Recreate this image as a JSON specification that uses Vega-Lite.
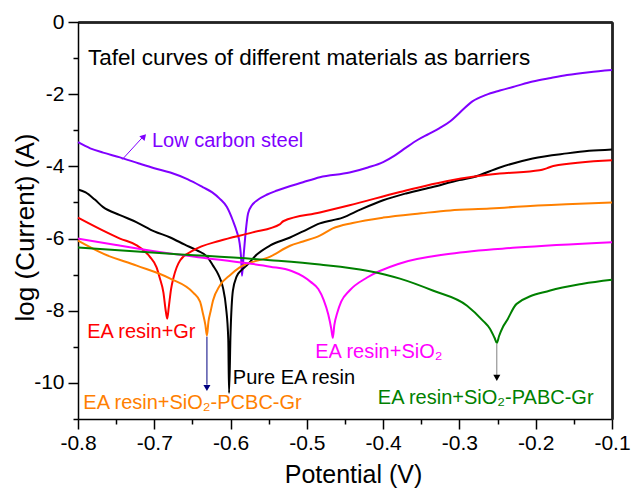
{
  "$schema": "https://vega.github.io/schema/vega-lite/v6.json",
  "width": 534,
  "height": 397,
  "autosize": {"type": "none"},
  "padding": {"left": 78, "top": 22, "right": 20, "bottom": 69},
  "background": "white",
  "resolve": {"axis": {"x": "independent", "y": "independent"}},
  "config": {
    "font": "Liberation Sans",
    "view": {"stroke": null},
    "axis": {
      "labelFont": "Liberation Sans",
      "titleFont": "Liberation Sans",
      "labelFontSize": 21,
      "titleFontSize": 25,
      "titleFontWeight": "normal",
      "labelColor": "black",
      "titleColor": "black",
      "domainColor": "black",
      "domainWidth": 1.5,
      "tickColor": "black",
      "tickWidth": 1.5,
      "grid": false,
      "labelOverlap": false,
      "labelFlush": false
    }
  },
  "datasets": {
    "curves": [
      {"series": "Low carbon steel", "x": -0.8, "y": -3.33},
      {"series": "Low carbon steel", "x": -0.784, "y": -3.5},
      {"series": "Low carbon steel", "x": -0.767, "y": -3.62},
      {"series": "Low carbon steel", "x": -0.745, "y": -3.75},
      {"series": "Low carbon steel", "x": -0.72, "y": -3.92},
      {"series": "Low carbon steel", "x": -0.7, "y": -4.05},
      {"series": "Low carbon steel", "x": -0.679, "y": -4.17},
      {"series": "Low carbon steel", "x": -0.656, "y": -4.36},
      {"series": "Low carbon steel", "x": -0.636, "y": -4.58},
      {"series": "Low carbon steel", "x": -0.624, "y": -4.72},
      {"series": "Low carbon steel", "x": -0.614, "y": -4.9},
      {"series": "Low carbon steel", "x": -0.605, "y": -5.12},
      {"series": "Low carbon steel", "x": -0.597, "y": -5.5},
      {"series": "Low carbon steel", "x": -0.592, "y": -5.8},
      {"series": "Low carbon steel", "x": -0.588, "y": -6.15},
      {"series": "Low carbon steel", "x": -0.586, "y": -6.6},
      {"series": "Low carbon steel", "x": -0.585, "y": -7.03},
      {"series": "Low carbon steel", "x": -0.583, "y": -6.5},
      {"series": "Low carbon steel", "x": -0.581, "y": -6.0},
      {"series": "Low carbon steel", "x": -0.577, "y": -5.3},
      {"series": "Low carbon steel", "x": -0.572, "y": -5.08},
      {"series": "Low carbon steel", "x": -0.565, "y": -4.94},
      {"series": "Low carbon steel", "x": -0.552, "y": -4.78},
      {"series": "Low carbon steel", "x": -0.539, "y": -4.67},
      {"series": "Low carbon steel", "x": -0.505, "y": -4.44},
      {"series": "Low carbon steel", "x": -0.483, "y": -4.3},
      {"series": "Low carbon steel", "x": -0.444, "y": -4.17},
      {"series": "Low carbon steel", "x": -0.42, "y": -4.03},
      {"series": "Low carbon steel", "x": -0.4, "y": -3.88},
      {"series": "Low carbon steel", "x": -0.385, "y": -3.7},
      {"series": "Low carbon steel", "x": -0.37, "y": -3.48},
      {"series": "Low carbon steel", "x": -0.355, "y": -3.27},
      {"series": "Low carbon steel", "x": -0.34, "y": -3.1},
      {"series": "Low carbon steel", "x": -0.326, "y": -2.94},
      {"series": "Low carbon steel", "x": -0.312, "y": -2.75},
      {"series": "Low carbon steel", "x": -0.3, "y": -2.52},
      {"series": "Low carbon steel", "x": -0.283, "y": -2.2},
      {"series": "Low carbon steel", "x": -0.265, "y": -2.02},
      {"series": "Low carbon steel", "x": -0.247, "y": -1.9},
      {"series": "Low carbon steel", "x": -0.225, "y": -1.77},
      {"series": "Low carbon steel", "x": -0.204, "y": -1.65},
      {"series": "Low carbon steel", "x": -0.18, "y": -1.55},
      {"series": "Low carbon steel", "x": -0.159, "y": -1.47},
      {"series": "Low carbon steel", "x": -0.13, "y": -1.39},
      {"series": "Low carbon steel", "x": -0.1, "y": -1.33},

      {"series": "Pure EA resin", "x": -0.8, "y": -4.64},
      {"series": "Pure EA resin", "x": -0.79, "y": -4.72},
      {"series": "Pure EA resin", "x": -0.778, "y": -4.92},
      {"series": "Pure EA resin", "x": -0.767, "y": -5.13},
      {"series": "Pure EA resin", "x": -0.745, "y": -5.35},
      {"series": "Pure EA resin", "x": -0.723, "y": -5.55},
      {"series": "Pure EA resin", "x": -0.7, "y": -5.8},
      {"series": "Pure EA resin", "x": -0.679, "y": -5.97},
      {"series": "Pure EA resin", "x": -0.66, "y": -6.17},
      {"series": "Pure EA resin", "x": -0.644, "y": -6.33},
      {"series": "Pure EA resin", "x": -0.63, "y": -6.52},
      {"series": "Pure EA resin", "x": -0.623, "y": -6.75},
      {"series": "Pure EA resin", "x": -0.616, "y": -7.0},
      {"series": "Pure EA resin", "x": -0.61, "y": -7.36},
      {"series": "Pure EA resin", "x": -0.606, "y": -7.9},
      {"series": "Pure EA resin", "x": -0.603, "y": -8.8},
      {"series": "Pure EA resin", "x": -0.602, "y": -10.28},
      {"series": "Pure EA resin", "x": -0.6, "y": -8.6},
      {"series": "Pure EA resin", "x": -0.597, "y": -7.45},
      {"series": "Pure EA resin", "x": -0.592, "y": -7.05},
      {"series": "Pure EA resin", "x": -0.586, "y": -6.88},
      {"series": "Pure EA resin", "x": -0.579, "y": -6.75},
      {"series": "Pure EA resin", "x": -0.566, "y": -6.45},
      {"series": "Pure EA resin", "x": -0.548, "y": -6.19},
      {"series": "Pure EA resin", "x": -0.522, "y": -5.97},
      {"series": "Pure EA resin", "x": -0.505, "y": -5.8},
      {"series": "Pure EA resin", "x": -0.483, "y": -5.58},
      {"series": "Pure EA resin", "x": -0.453, "y": -5.42},
      {"series": "Pure EA resin", "x": -0.43, "y": -5.2},
      {"series": "Pure EA resin", "x": -0.4, "y": -4.94},
      {"series": "Pure EA resin", "x": -0.37, "y": -4.75},
      {"series": "Pure EA resin", "x": -0.335, "y": -4.57},
      {"series": "Pure EA resin", "x": -0.3, "y": -4.38},
      {"series": "Pure EA resin", "x": -0.282, "y": -4.3},
      {"series": "Pure EA resin", "x": -0.247, "y": -4.03},
      {"series": "Pure EA resin", "x": -0.204, "y": -3.78},
      {"series": "Pure EA resin", "x": -0.159, "y": -3.64},
      {"series": "Pure EA resin", "x": -0.13, "y": -3.57},
      {"series": "Pure EA resin", "x": -0.1, "y": -3.53},

      {"series": "EA resin+Gr", "x": -0.8, "y": -5.42},
      {"series": "EA resin+Gr", "x": -0.767, "y": -5.78},
      {"series": "EA resin+Gr", "x": -0.745, "y": -6.0},
      {"series": "EA resin+Gr", "x": -0.723, "y": -6.19},
      {"series": "EA resin+Gr", "x": -0.706, "y": -6.5},
      {"series": "EA resin+Gr", "x": -0.697, "y": -6.8},
      {"series": "EA resin+Gr", "x": -0.693, "y": -7.08},
      {"series": "EA resin+Gr", "x": -0.688, "y": -7.5},
      {"series": "EA resin+Gr", "x": -0.685, "y": -8.0},
      {"series": "EA resin+Gr", "x": -0.683, "y": -8.22},
      {"series": "EA resin+Gr", "x": -0.681, "y": -7.9},
      {"series": "EA resin+Gr", "x": -0.678, "y": -7.4},
      {"series": "EA resin+Gr", "x": -0.675, "y": -7.1},
      {"series": "EA resin+Gr", "x": -0.666, "y": -6.6},
      {"series": "EA resin+Gr", "x": -0.649, "y": -6.33},
      {"series": "EA resin+Gr", "x": -0.614, "y": -6.06},
      {"series": "EA resin+Gr", "x": -0.571, "y": -5.83},
      {"series": "EA resin+Gr", "x": -0.535, "y": -5.6},
      {"series": "EA resin+Gr", "x": -0.531, "y": -5.52},
      {"series": "EA resin+Gr", "x": -0.483, "y": -5.28},
      {"series": "EA resin+Gr", "x": -0.444, "y": -5.08},
      {"series": "EA resin+Gr", "x": -0.378, "y": -4.71},
      {"series": "EA resin+Gr", "x": -0.312, "y": -4.39},
      {"series": "EA resin+Gr", "x": -0.247, "y": -4.2},
      {"series": "EA resin+Gr", "x": -0.195, "y": -4.11},
      {"series": "EA resin+Gr", "x": -0.185, "y": -4.05},
      {"series": "EA resin+Gr", "x": -0.177, "y": -3.99},
      {"series": "EA resin+Gr", "x": -0.1, "y": -3.83},

      {"series": "EA resin+SiO₂-PCBC-Gr", "x": -0.8, "y": -6.06},
      {"series": "EA resin+SiO₂-PCBC-Gr", "x": -0.767, "y": -6.42},
      {"series": "EA resin+SiO₂-PCBC-Gr", "x": -0.723, "y": -6.75},
      {"series": "EA resin+SiO₂-PCBC-Gr", "x": -0.679, "y": -7.11},
      {"series": "EA resin+SiO₂-PCBC-Gr", "x": -0.649, "y": -7.5},
      {"series": "EA resin+SiO₂-PCBC-Gr", "x": -0.64, "y": -7.75},
      {"series": "EA resin+SiO₂-PCBC-Gr", "x": -0.636, "y": -8.1},
      {"series": "EA resin+SiO₂-PCBC-Gr", "x": -0.633, "y": -8.4},
      {"series": "EA resin+SiO₂-PCBC-Gr", "x": -0.631, "y": -8.69},
      {"series": "EA resin+SiO₂-PCBC-Gr", "x": -0.629, "y": -8.3},
      {"series": "EA resin+SiO₂-PCBC-Gr", "x": -0.626, "y": -8.0},
      {"series": "EA resin+SiO₂-PCBC-Gr", "x": -0.623, "y": -7.72},
      {"series": "EA resin+SiO₂-PCBC-Gr", "x": -0.614, "y": -7.3},
      {"series": "EA resin+SiO₂-PCBC-Gr", "x": -0.6, "y": -7.0},
      {"series": "EA resin+SiO₂-PCBC-Gr", "x": -0.588, "y": -6.8},
      {"series": "EA resin+SiO₂-PCBC-Gr", "x": -0.548, "y": -6.5},
      {"series": "EA resin+SiO₂-PCBC-Gr", "x": -0.522, "y": -6.2},
      {"series": "EA resin+SiO₂-PCBC-Gr", "x": -0.505, "y": -6.08},
      {"series": "EA resin+SiO₂-PCBC-Gr", "x": -0.483, "y": -5.92},
      {"series": "EA resin+SiO₂-PCBC-Gr", "x": -0.466, "y": -5.72},
      {"series": "EA resin+SiO₂-PCBC-Gr", "x": -0.44, "y": -5.57},
      {"series": "EA resin+SiO₂-PCBC-Gr", "x": -0.4, "y": -5.42},
      {"series": "EA resin+SiO₂-PCBC-Gr", "x": -0.35, "y": -5.3},
      {"series": "EA resin+SiO₂-PCBC-Gr", "x": -0.312, "y": -5.22},
      {"series": "EA resin+SiO₂-PCBC-Gr", "x": -0.26, "y": -5.17},
      {"series": "EA resin+SiO₂-PCBC-Gr", "x": -0.225, "y": -5.12},
      {"series": "EA resin+SiO₂-PCBC-Gr", "x": -0.16, "y": -5.05},
      {"series": "EA resin+SiO₂-PCBC-Gr", "x": -0.1, "y": -5.0},

      {"series": "EA resin+SiO₂", "x": -0.8, "y": -6.0},
      {"series": "EA resin+SiO₂", "x": -0.75, "y": -6.18},
      {"series": "EA resin+SiO₂", "x": -0.7, "y": -6.35},
      {"series": "EA resin+SiO₂", "x": -0.636, "y": -6.53},
      {"series": "EA resin+SiO₂", "x": -0.58, "y": -6.68},
      {"series": "EA resin+SiO₂", "x": -0.548, "y": -6.78},
      {"series": "EA resin+SiO₂", "x": -0.52, "y": -6.9},
      {"series": "EA resin+SiO₂", "x": -0.505, "y": -7.05},
      {"series": "EA resin+SiO₂", "x": -0.495, "y": -7.2},
      {"series": "EA resin+SiO₂", "x": -0.485, "y": -7.4},
      {"series": "EA resin+SiO₂", "x": -0.478, "y": -7.7},
      {"series": "EA resin+SiO₂", "x": -0.472, "y": -8.1},
      {"series": "EA resin+SiO₂", "x": -0.468, "y": -8.5},
      {"series": "EA resin+SiO₂", "x": -0.466, "y": -8.75},
      {"series": "EA resin+SiO₂", "x": -0.464, "y": -8.4},
      {"series": "EA resin+SiO₂", "x": -0.46, "y": -8.05},
      {"series": "EA resin+SiO₂", "x": -0.455, "y": -7.75},
      {"series": "EA resin+SiO₂", "x": -0.444, "y": -7.44},
      {"series": "EA resin+SiO₂", "x": -0.421, "y": -7.08},
      {"series": "EA resin+SiO₂", "x": -0.378, "y": -6.69},
      {"series": "EA resin+SiO₂", "x": -0.312, "y": -6.42},
      {"series": "EA resin+SiO₂", "x": -0.225, "y": -6.25},
      {"series": "EA resin+SiO₂", "x": -0.1, "y": -6.1},

      {"series": "EA resin+SiO₂-PABC-Gr", "x": -0.8, "y": -6.25},
      {"series": "EA resin+SiO₂-PABC-Gr", "x": -0.679, "y": -6.42},
      {"series": "EA resin+SiO₂-PABC-Gr", "x": -0.548, "y": -6.6},
      {"series": "EA resin+SiO₂-PABC-Gr", "x": -0.483, "y": -6.72},
      {"series": "EA resin+SiO₂-PABC-Gr", "x": -0.421, "y": -6.89},
      {"series": "EA resin+SiO₂-PABC-Gr", "x": -0.378, "y": -7.11},
      {"series": "EA resin+SiO₂-PABC-Gr", "x": -0.335, "y": -7.44},
      {"series": "EA resin+SiO₂-PABC-Gr", "x": -0.29, "y": -7.86},
      {"series": "EA resin+SiO₂-PABC-Gr", "x": -0.269, "y": -8.28},
      {"series": "EA resin+SiO₂-PABC-Gr", "x": -0.26, "y": -8.5},
      {"series": "EA resin+SiO₂-PABC-Gr", "x": -0.254, "y": -8.75},
      {"series": "EA resin+SiO₂-PABC-Gr", "x": -0.251, "y": -8.89},
      {"series": "EA resin+SiO₂-PABC-Gr", "x": -0.248, "y": -8.7},
      {"series": "EA resin+SiO₂-PABC-Gr", "x": -0.243, "y": -8.45},
      {"series": "EA resin+SiO₂-PABC-Gr", "x": -0.238, "y": -8.28},
      {"series": "EA resin+SiO₂-PABC-Gr", "x": -0.225, "y": -7.81},
      {"series": "EA resin+SiO₂-PABC-Gr", "x": -0.181, "y": -7.44},
      {"series": "EA resin+SiO₂-PABC-Gr", "x": -0.138, "y": -7.25},
      {"series": "EA resin+SiO₂-PABC-Gr", "x": -0.1, "y": -7.14}
    ],
    "labels": [
      {"series": "Low carbon steel", "x": -0.703, "y": -3.47},
      {"series": "EA resin+Gr", "x": -0.788, "y": -8.75},
      {"series": "Pure EA resin", "x": -0.597, "y": -10.03},
      {"series": "EA resin+SiO₂-PCBC-Gr", "x": -0.793, "y": -10.72},
      {"series": "EA resin+SiO₂", "x": -0.489, "y": -9.3},
      {"series": "EA resin+SiO₂-PABC-Gr", "x": -0.407, "y": -10.58}
    ]
  },
  "encoding": {
    "x": {
      "field": "x", "type": "quantitative",
      "scale": {"domain": [-0.8, -0.1], "nice": false, "zero": false},
      "axis": {"labels": false, "ticks": false, "title": null, "domain": true, "domainColor": "#222222", "domainWidth": 1.5}
    },
    "y": {
      "field": "y", "type": "quantitative",
      "scale": {"domain": [-11, 0], "nice": false, "zero": false},
      "axis": {"labels": false, "ticks": false, "title": null, "domain": true, "domainColor": "#222222", "domainWidth": 1.5}
    }
  },
  "layer": [
    {
      "data": {"name": "curves"},
      "mark": {"type": "line", "strokeWidth": 2, "interpolate": "monotone"},
      "encoding": {
        "x": {
          "field": "x", "type": "quantitative",
          "scale": {"domain": [-0.8, -0.1], "nice": false, "zero": false},
          "axis": {
            "orient": "bottom",
            "title": "Potential (V)",
            "values": [-0.8, -0.75, -0.7, -0.65, -0.6, -0.55, -0.5, -0.45, -0.4, -0.35, -0.3, -0.25, -0.2, -0.15, -0.1],
            "labelExpr": "abs(round(datum.value*10) - datum.value*10) > 0.25 ? '' : toString(round(datum.value*10)/10)",
            "tickSize": {"condition": {"test": "abs(round(datum.value*10) - datum.value*10) > 0.25", "value": 5}, "value": 10},
            "labelPadding": 3,
            "titleX": 275,
            "titleY": 63,
            "titleBaseline": "alphabetic"
          }
        },
        "y": {
          "field": "y", "type": "quantitative",
          "scale": {"domain": [-11, 0], "nice": false, "zero": false},
          "axis": {
            "orient": "left",
            "title": "log (Current) (A)",
            "values": [-11, -10, -9, -8, -7, -6, -5, -4, -3, -2, -1, 0],
            "labelExpr": "abs(datum.value) % 2 == 1 ? '' : toString(datum.value)",
            "tickSize": {"condition": {"test": "abs(datum.value) % 2 == 1", "value": 5}, "value": 10},
            "labelPadding": 4,
            "titleFontSize": 26,
            "titleX": -45,
            "titleY": 205,
            "titleBaseline": "alphabetic"
          }
        },
        "color": {
          "field": "series", "type": "nominal", "legend": null,
          "scale": {
            "domain": ["Low carbon steel", "Pure EA resin", "EA resin+Gr", "EA resin+SiO₂-PCBC-Gr", "EA resin+SiO₂", "EA resin+SiO₂-PABC-Gr"],
            "range": ["#8000ff", "#000000", "#ff0000", "#ff8000", "#ff00ff", "#008000"]
          }
        }
      }
    },
    {
      "data": {"name": "labels"},
      "mark": {"type": "text", "align": "left", "baseline": "alphabetic", "fontSize": 20, "font": "Liberation Sans"},
      "encoding": {
        "text": {"field": "series"},
        "color": {"field": "series", "type": "nominal", "legend": null}
      }
    },
    {
      "data": {"values": [{"label": "Tafel curves of different materials as barriers", "x": -0.787, "y": -1.19}]},
      "mark": {"type": "text", "align": "left", "baseline": "alphabetic", "fontSize": 22.5, "font": "Liberation Sans", "color": "black"},
      "encoding": {
        "text": {"field": "label"}
      }
    },
    {
      "data": {"values": [{"x": -0.742, "y": -3.81, "x2": -0.713, "y2": -3.14}]},
      "mark": {"type": "rule", "color": "#8000ff", "strokeWidth": 1},
      "encoding": {
        "x2": {"field": "x2"},
        "y2": {"field": "y2"}
      }
    },
    {
      "data": {"values": [{"x": -0.7135, "y": -3.17}]},
      "mark": {"type": "point", "shape": "triangle-up", "angle": 42, "filled": true, "opacity": 1, "size": 50, "color": "#8000ff"},
      "encoding": {}
    },
    {
      "data": {"values": [{"x": -0.631, "y": -8.72, "y2": -10.05}]},
      "mark": {"type": "rule", "color": "#000080", "strokeWidth": 1},
      "encoding": {
        "y2": {"field": "y2"}
      }
    },
    {
      "data": {"values": [{"x": -0.631, "y": -10.14}]},
      "mark": {"type": "point", "shape": "triangle-down", "filled": true, "opacity": 1, "size": 50, "color": "#000080"},
      "encoding": {}
    },
    {
      "data": {"values": [{"x": -0.251, "y": -8.92, "y2": -9.8}]},
      "mark": {"type": "rule", "color": "#808080", "strokeWidth": 1},
      "encoding": {
        "y2": {"field": "y2"}
      }
    },
    {
      "data": {"values": [{"x": -0.251, "y": -9.86}]},
      "mark": {"type": "point", "shape": "triangle-down", "filled": true, "opacity": 1, "size": 50, "color": "black"},
      "encoding": {}
    }
  ]
}
